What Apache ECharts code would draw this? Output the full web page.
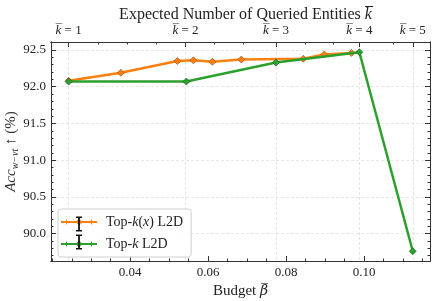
<!DOCTYPE html>
<html><head><meta charset="utf-8">
<script src="https://cdn.jsdelivr.net/npm/echarts@6/dist/echarts.min.js"></script>
<style>html,body{margin:0;padding:0;background:#fff}#c{width:434px;height:301px}</style>
</head><body><div id="c"></div>
<script>
// ---- data ----
const topkxBudget = [0.0242, 0.0376, 0.0521, 0.0562, 0.0611, 0.0685, 0.0844, 0.0898, 0.0968];
const topkxAcc    = [92.08, 92.19, 92.35, 92.36, 92.34, 92.37, 92.38, 92.44, 92.46];
const topkBudget  = [0.0242, 0.0544, 0.0774, 0.0988, 0.1125];
const topkAcc     = [92.07, 92.07, 92.33, 92.47, 89.76];
const kBarValues  = [0.0242, 0.0542, 0.0774, 0.0988, 0.1125];
const kBarLabels  = ['1', '2', '3', '4', '5'];
const kMinorTicks = [0.0319, 0.0393, 0.0467, 0.0615, 0.0690, 0.0849, 0.0921, 0.1075];
const xMajorTicks = [0.04, 0.06, 0.08, 0.10];
const xMinorTicks = [0.02,0.025,0.03,0.035,0.045,0.05,0.055,0.065,0.07,0.075,0.085,0.09,0.095,0.105,0.11,0.115];
const yMajorTicks = [90.0, 90.5, 91.0, 91.5, 92.0, 92.5];
const yMinorTicks = [89.7,89.8,89.9,90.1,90.2,90.3,90.4,90.6,90.7,90.8,90.9,91.1,91.2,91.3,91.4,91.6,91.7,91.8,91.9,92.1,92.2,92.3,92.4,92.6];
const seriesNames = ['Top-k(x) L2D', 'Top-k L2D'];

const FONT = 'Liberation Serif';
const AX = '#333';
const XMIN = 0.01967, XMAX = 0.11692, YMIN = 89.627, YMAX = 92.609;

const chart = echarts.init(document.getElementById('c'), null, {renderer: 'canvas'});
const line = {show: true, lineStyle: {color: AX, width: 1}};
function xAx(pos, ticks, len, extra) {
  return Object.assign({
    type: 'value', position: pos, min: XMIN, max: XMAX,
    axisLine: line,
    axisTick: {show: true, inside: true, length: len, customValues: ticks, lineStyle: {color: AX, width: 1}},
    axisLabel: {show: false, customValues: ticks},
    splitLine: {show: false}
  }, extra || {});
}
function yAx(pos, ticks, len, extra) {
  return Object.assign({
    type: 'value', position: pos, min: YMIN, max: YMAX,
    axisLine: line,
    axisTick: {show: true, inside: true, length: len, customValues: ticks, lineStyle: {color: AX, width: 1}},
    axisLabel: {show: false, customValues: ticks},
    splitLine: {show: false}
  }, extra || {});
}
const iconPath = 'path://M0,4.1 L36,4.1 L36,5.9 L0,5.9 Z M5,2.5 L6,2.5 L6,7.5 L5,7.5 Z M30,2.5 L31,2.5 L31,7.5 L30,7.5 Z M18,1.5 L21.5,5 L18,8.5 L14.5,5 Z';

chart.setOption({
  animation: false,
  backgroundColor: '#fff',
  color: ['#ff7f0e', '#2ca02c'],
  title: {
    text: '{r|Expected Number of Queried Entities }{i|k\u0305}',
    left: 240.5, textAlign: 'center', top: 2,
    textStyle: {fontWeight: 'normal', rich: {
      r: {fontFamily: FONT, fontSize: 16, fontWeight: 'normal', color: '#222'},
      i: {fontFamily: FONT, fontSize: 16, fontWeight: 'normal', fontStyle: 'italic', color: '#222'}
    }}
  },
  grid: {left: 51, right: 4, top: 42, bottom: 40, containLabel: false, outerBoundsMode: 'none'},
  xAxis: [
    xAx('bottom', xMajorTicks, 5, {
      axisLabel: {show: true, customValues: xMajorTicks, margin: 5, fontFamily: FONT, fontSize: 13, color: '#222',
        formatter: v => v.toFixed(2)},
      name: '{r|Budget }{i|\u03b2\u0305}', nameLocation: 'middle', nameGap: 20,
      nameTextStyle: {rich: {
        r: {fontFamily: FONT, fontSize: 15, color: '#222'},
        i: {fontFamily: 'DejaVu Serif', fontSize: 14, fontStyle: 'italic', color: '#222'}
      }}
    }),
    xAx('bottom', xMinorTicks, 2.5),
    xAx('top', kBarValues, 5, {
      axisLabel: {show: true, customValues: kBarValues, margin: 5,
        formatter: v => {
          let i = 0, best = 1e9;
          kBarValues.forEach((k, j) => { if (Math.abs(k - v) < best) { best = Math.abs(k - v); i = j; } });
          return '{i|k\u0305}{r| = ' + kBarLabels[i] + '}';
        },
        rich: {
          r: {fontFamily: FONT, fontSize: 13, color: '#222'},
          i: {fontFamily: FONT, fontSize: 13, fontStyle: 'italic', color: '#222'}
        }},
      splitLine: {show: true, lineStyle: {color: '#e0e0e0', width: 0.8, type: [3, 2]}}
    }),
    xAx('top', kMinorTicks, 2.5)
  ],
  yAxis: [
    yAx('left', yMajorTicks, 5, {
      axisLabel: {show: true, customValues: yMajorTicks, margin: 5, fontFamily: FONT, fontSize: 13, color: '#222',
        formatter: v => v.toFixed(1)},
      splitLine: {show: true, lineStyle: {color: '#e0e0e0', width: 0.8, type: [3, 2]}},
      name: '{i|Acc}{s|w\u2212vt}{r| \u2191 (%)}', nameLocation: 'middle', nameGap: 31, nameRotate: 90,
      nameMoveOverlap: false,
      nameTextStyle: {rich: {
        i: {fontFamily: FONT, fontSize: 15, fontStyle: 'italic', color: '#333'},
        s: {fontFamily: FONT, fontSize: 10, fontStyle: 'italic', color: '#333', padding: [8, 0, 0, 0]},
        r: {fontFamily: FONT, fontSize: 15, color: '#333'}
      }}
    }),
    yAx('left', yMinorTicks, 2.5),
    yAx('right', yMajorTicks, 5),
    yAx('right', yMinorTicks, 2.5)
  ],
  legend: {
    orient: 'vertical', left: 58, top: 209,
    data: seriesNames,
    icon: iconPath, itemWidth: 36, itemHeight: 10, itemGap: 8,
    itemStyle: {borderWidth: 0},
    padding: [6, 8, 6, 3],
    backgroundColor: 'rgba(255,255,255,0.85)',
    borderColor: '#d0d0d0', borderWidth: 1, borderRadius: 3,
    formatter: n => n === seriesNames[0]
      ? '{r|Top-}{i|k}{r|(}{i|x}{r|) L2D}'
      : '{r|Top-}{i|k}{r| L2D}',
    textStyle: {padding: [0, 0, 0, 4], rich: {
      r: {fontFamily: FONT, fontSize: 14, color: '#222'},
      i: {fontFamily: FONT, fontSize: 14, fontStyle: 'italic', color: '#222'}
    }}
  },
  series: [
    {name: seriesNames[0], type: 'line', xAxisIndex: 0, yAxisIndex: 0,
     data: topkxBudget.map((b, i) => [b, topkxAcc[i]]),
     symbol: 'diamond', symbolSize: 7, showSymbol: true,
     lineStyle: {width: 2.5}, itemStyle: {borderColor: '#8a4a10', borderWidth: 0.6}, z: 3},
    {name: seriesNames[1], type: 'line', xAxisIndex: 0, yAxisIndex: 0,
     data: topkBudget.map((b, i) => [b, topkAcc[i]]),
     symbol: 'diamond', symbolSize: 7, showSymbol: true,
     lineStyle: {width: 2.5}, itemStyle: {borderColor: '#175a17', borderWidth: 0.6}, z: 4}
  ]
});

// black vertical error-bar glyphs in the legend keys
const errGlyph = (cx, cy) => [
  {type: 'rect', z: 300, shape: {x: cx - 0.9, y: cy - 7, width: 1.8, height: 14}, style: {fill: '#111'}},
  {type: 'rect', z: 300, shape: {x: cx - 3, y: cy - 7.5, width: 6, height: 1.5}, style: {fill: '#111'}},
  {type: 'rect', z: 300, shape: {x: cx - 3, y: cy + 6, width: 6, height: 1.5}, style: {fill: '#111'}}
];
chart.setOption({graphic: {elements: errGlyph(79, 224).concat(errGlyph(79, 242))}});
</script>
</body></html>
